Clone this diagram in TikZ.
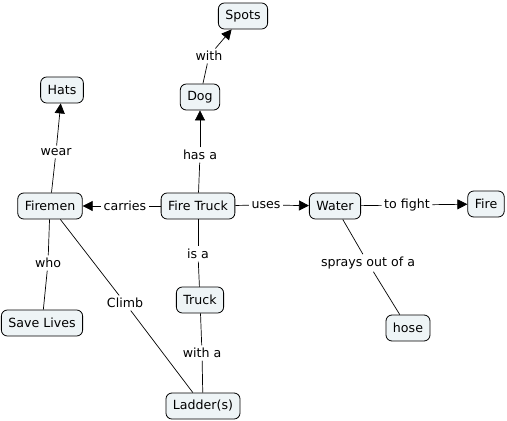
\documentclass[tikz,border=0pt]{standalone}
\usepackage{fontspec}
\setmainfont{DejaVu Sans}
\usetikzlibrary{arrows.meta}
\definecolor{conceptfill}{HTML}{EEF4F6}
\tikzset{
  concept/.style={draw, fill=conceptfill, rounded corners=6pt, line width=0.8pt,
    inner xsep=7pt, minimum height=26pt, font=\fontsize{12.6}{15}\selectfont},
  phrase/.style={fill=white, inner sep=2.5pt, font=\fontsize{12.6}{15}\selectfont},
  link/.style={line width=0.7pt},
  linkto/.style={line width=0.7pt, -{Triangle[length=10pt,width=10pt]}}
}
\begin{document}
\begin{tikzpicture}[x=1pt,y=-1pt]
\useasboundingbox (0,0) rectangle (507,421);
% concepts
\node[concept] (spots)     at (243,16)  {Spots};
\node[concept] (dog)       at (200,97)  {Dog};
\node[concept] (hats)      at (62,90)   {Hats};
\node[concept] (firemen)   at (50,206)  {Firemen};
\node[concept] (firetruck) at (198,206) {Fire Truck};
\node[concept] (water)     at (335,206) {Water};
\node[concept] (fire)      at (486,204) {Fire};
\node[concept] (savelives) at (42,323)  {Save Lives};
\node[concept] (truck)     at (200,300) {Truck};
\node[concept] (hose)      at (408,328) {hose};
\node[concept] (ladders)   at (203,406) {Ladder(s)};
% linking phrases
\node[phrase] (with)    at (209,56)  {with};
\node[phrase] (wear)    at (56,152)  {wear};
\node[phrase] (hasa)    at (200,155) {has a};
\node[phrase] (carries) at (125,206) {carries};
\node[phrase] (uses)    at (266,205) {uses};
\node[phrase] (tofight) at (407,205) {to fight};
\node[phrase] (isa)     at (198,254) {is a};
\node[phrase] (who)     at (48,263)  {who};
\node[phrase] (climb)   at (125,303) {Climb};
\node[phrase] (sprays)  at (368,263) {sprays out of a};
\node[phrase] (witha)   at (202,353) {with a};
% connections
\draw[link]   (firetruck) -- (carries);
\draw[linkto] (carries) -- (firemen);
\draw[link]   (firetruck) -- (hasa);
\draw[linkto] (hasa) -- (dog);
\draw[link]   (dog) -- (with);
\draw[linkto] (with) -- (spots);
\draw[link]   (firemen) -- (wear);
\draw[linkto] (wear) -- (hats);
\draw[link]   (firetruck) -- (uses);
\draw[linkto] (uses) -- (water);
\draw[link]   (water) -- (tofight);
\draw[linkto] (tofight) -- (fire);
\draw[link]   (firetruck) -- (isa);
\draw[link]   (isa) -- (truck);
\draw[link]   (truck) -- (witha);
\draw[link]   (witha) -- (ladders);
\draw[link]   (firemen) -- (who);
\draw[link]   (who) -- (savelives);
\draw[link]   (firemen) -- (climb);
\draw[link]   (climb) -- (ladders);
\draw[link]   (water) -- (sprays);
\draw[link]   (sprays) -- (hose);
\end{tikzpicture}
\end{document}
